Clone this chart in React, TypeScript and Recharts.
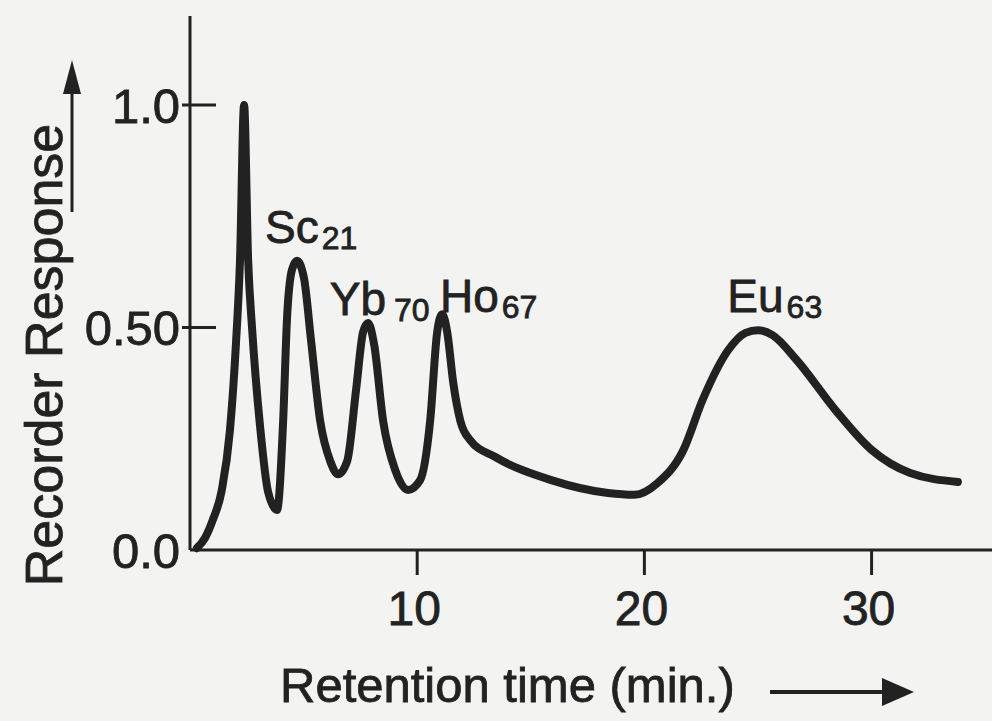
import { LineChart, Line, XAxis, YAxis, ReferenceDot } from "recharts";

// retention time (min) vs recorder response
const retentionTime = [
  0.3, 0.66, 1.0, 1.4, 1.76, 2.03, 2.2, 2.38, 2.56, 2.73, 3.08, 3.44, 3.83,
  4.1, 4.27, 4.49, 4.71, 5.02, 5.33, 5.73, 6.17, 6.52, 6.92, 7.31, 7.62, 7.84,
  8.11, 8.5, 9.03, 9.6, 10.13, 10.57, 10.88, 11.1, 11.32, 11.59, 11.9, 12.33,
  13.4, 15.9, 18.4, 19.56, 20.57, 21.72, 22.56, 23.7, 24.45, 25.0, 25.64,
  26.7, 28.4, 30.0, 31.7, 33.8,
];
const recorderResponse = [
  0.004, 0.027, 0.067, 0.135, 0.27, 0.47, 0.65, 1.0, 0.65, 0.5, 0.28, 0.13,
  0.09, 0.29, 0.52, 0.63, 0.65, 0.61, 0.47, 0.29, 0.2, 0.17, 0.2, 0.36, 0.49,
  0.51, 0.46, 0.29, 0.18, 0.135, 0.157, 0.29, 0.49, 0.53, 0.49, 0.375, 0.29,
  0.247, 0.21, 0.157, 0.128, 0.124, 0.15, 0.225, 0.337, 0.45, 0.488, 0.494,
  0.483, 0.427, 0.315, 0.225, 0.173, 0.153,
];

const xTicks = [10, 20, 30];
const yTicks = [0, 0.5, 1.0];
const yTickLabels = ["0.0", "0.50", "1.0"];

// peak annotations: element symbol + atomic number
const peakSymbols = ["Sc", "Yb", "Ho", "Eu"];
const peakNumbers = ["21", "70", "67", "63"];
const peakLabelTime = [3.3, 6.15, 11.0, 23.65];
const peakLabelResponse = [0.69, 0.527, 0.535, 0.535];

const INK = "#222222";
const PAPER = "#f3f3f1";
const FONT = '"Liberation Sans", Arial, Helvetica, sans-serif';
const TEXT_STROKE = { stroke: INK, strokeWidth: 0.8 };

const data = retentionTime.map((t, i) => ({ t, r: recorderResponse[i] }));

function YTick(props: any) {
  const { x, y, payload } = props;
  const i = yTicks.indexOf(payload.value);
  return (
    <g>
      {payload.value !== 0 && (
        <line x1={x + 2} y1={y} x2={x + 36} y2={y} stroke={INK} strokeWidth={3} />
      )}
      <text
        x={x}
        y={y}
        dy="0.36em"
        textAnchor="end"
        fontSize={49}
        fill={INK}
        fontFamily={FONT}
        {...TEXT_STROKE}
      >
        {yTickLabels[i]}
      </text>
    </g>
  );
}

function XTick(props: any) {
  const { x, y, payload } = props;
  return (
    <text
      x={x - 3}
      y={y}
      dy="0.71em"
      textAnchor="middle"
      fontSize={48}
      fill={INK}
      fontFamily={FONT}
      {...TEXT_STROKE}
    >
      {payload.value}
    </text>
  );
}

function PeakLabel(props: any) {
  const { viewBox, symbol, num, gap } = props;
  if (!viewBox) return null;
  return (
    <text x={viewBox.x + 1} y={viewBox.y + 1} fontSize={46} fill={INK} fontFamily={FONT} {...TEXT_STROKE}>
      <tspan>{symbol}</tspan>
      <tspan fontSize={32} dx={gap} dy={6}>
        {num}
      </tspan>
    </text>
  );
}

function YTitle(props: any) {
  const vb = props.viewBox || { x: 0, y: 16, width: 190, height: 534 };
  const cx = vb.x + 62;
  const cy = vb.y + 339;
  const ax = vb.x + 72;
  return (
    <g>
      <text
        x={cx}
        y={cy}
        textAnchor="middle"
        fontSize={52}
        fill={INK}
        fontFamily={FONT}
        {...TEXT_STROKE}
        transform={`rotate(-90, ${cx}, ${cy})`}
      >
        Recorder Response
      </text>
      <line x1={ax} y1={vb.y + 196} x2={ax} y2={vb.y + 70} stroke={INK} strokeWidth={3} />
      <polygon points={`${ax},${vb.y + 44} ${ax - 9},${vb.y + 78} ${ax + 9},${vb.y + 78}`} fill={INK} />
    </g>
  );
}

function XTitle(props: any) {
  const vb = props.viewBox || { x: 190, y: 550, width: 802, height: 171 };
  const by = vb.y + 152;
  const ay = vb.y + 142;
  return (
    <g>
      <text x={vb.x + 90} y={by} fontSize={49} fill={INK} fontFamily={FONT} {...TEXT_STROKE}>
        Retention time (min.)
      </text>
      <line x1={vb.x + 580} y1={ay} x2={vb.x + 700} y2={ay} stroke={INK} strokeWidth={4} />
      <polygon
        points={`${vb.x + 724},${ay} ${vb.x + 692},${ay - 14} ${vb.x + 692},${ay + 14}`}
        fill={INK}
      />
    </g>
  );
}

export default function App() {
  return (
    <div
      style={{
        position: "absolute",
        left: 0,
        top: 0,
        width: 992,
        height: 721,
        background: PAPER,
        overflow: "hidden",
      }}
    >
      <LineChart
        width={992}
        height={721}
        data={data}
        margin={{ top: 16, right: 0, bottom: 0, left: 0 }}
      >
        <XAxis
          dataKey="t"
          type="number"
          domain={[0, 35.3]}
          ticks={xTicks}
          height={171}
          axisLine={{ stroke: INK, strokeWidth: 3 }}
          tickLine={{ stroke: INK, strokeWidth: 3 }}
          tickSize={25}
          tickMargin={16}
          tick={<XTick />}
          label={<XTitle />}
        />
        <YAxis
          type="number"
          domain={[0, 1.2]}
          ticks={yTicks}
          width={190}
          axisLine={{ stroke: INK, strokeWidth: 3 }}
          tickLine={false}
          tickSize={0}
          tickMargin={10}
          tick={<YTick />}
          label={<YTitle />}
        />
        <Line
          type="monotone"
          dataKey="r"
          stroke={INK}
          strokeWidth={8}
          strokeLinecap="round"
          strokeLinejoin="round"
          dot={false}
          isAnimationActive={false}
        />
        {peakSymbols.map((s, i) => (
          <ReferenceDot
            key={s}
            x={peakLabelTime[i]}
            y={peakLabelResponse[i]}
            r={1}
            fill="none"
            stroke="none"
            label={<PeakLabel symbol={s} num={peakNumbers[i]} gap={s === "Yb" ? 8 : 3} />}
          />
        ))}
      </LineChart>
    </div>
  );
}
